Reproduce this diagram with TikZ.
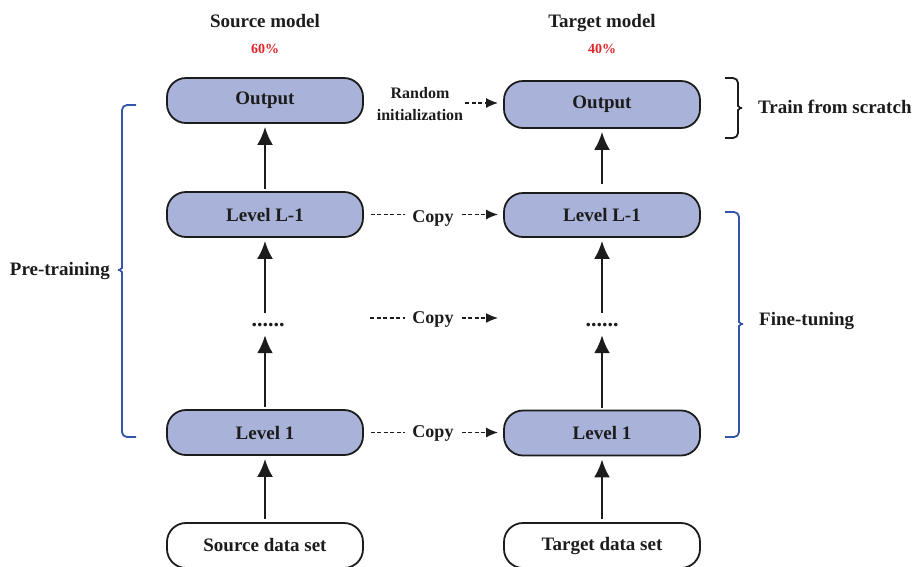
\documentclass[tikz,border=0pt]{standalone}
\usepackage{fontspec}
\setmainfont{Liberation Serif}
\usetikzlibrary{arrows.meta}
\definecolor{boxfill}{HTML}{A9B3D9}
\definecolor{ink}{HTML}{1C1C1C}
\definecolor{pctc}{HTML}{E0262A}
\definecolor{bracec}{HTML}{3556A8}
\tikzset{
  layer/.style={draw=ink, line width=1.8pt, fill=boxfill, rounded corners=19pt,
    minimum width=196pt, minimum height=45pt, inner sep=0pt,
    font=\fontsize{19}{22}\selectfont\bfseries, text=ink},
  datab/.style={layer, fill=white},
  lbl/.style={font=\fontsize{19}{22}\selectfont\bfseries, text=ink, inner sep=0pt},
  pct/.style={font=\fontsize{14}{16}\selectfont\bfseries, text=pctc, inner sep=0pt},
  copyt/.style={font=\fontsize{18}{20}\selectfont\bfseries, text=ink, inner sep=0pt},
  dotst/.style={font=\fontsize{22}{22}\selectfont\bfseries, text=ink, inner sep=0pt,
    minimum width=40pt, minimum height=20pt},
  uparrow/.style={draw=ink, line width=2.5pt, -{Latex[length=18pt,width=16pt]}},
  copyl/.style={draw=ink, line width=1.5pt, dash pattern=on 4pt off 2.5pt},
  copya/.style={copyl, -{Latex[length=12pt,width=10pt]}},
  bracel/.style={line width=1.8pt, rounded corners=5pt}
}
\begin{document}
\begin{tikzpicture}[x=1pt,y=-1pt]
\useasboundingbox (0,0) rectangle (916,566);

% titles
\node[lbl, anchor=base] (stitle) at (265,27) {Source model};
\node[pct, anchor=base] (spct) at (265,53) {60\%};
\node[lbl, anchor=base] (ttitle) at (602,27) {Target model};
\node[pct, anchor=base] (tpct) at (602,53) {40\%};

% source column
\node[layer] (sOut) at (265,100.5) {Output};
\node[layer] (sLm1) at (265,214.5) {Level L-1};
\node[dotst] (sdots) at (268,325) {......};
\node[layer] (sL1) at (265,432.5) {Level 1};
\node[datab] (sData) at (265,545.5) {Source data set};

% target column
\node[layer, minimum height=47pt] (tOut) at (602,104.5) {Output};
\node[layer, minimum height=44pt] (tLm1) at (602,215) {Level L-1};
\node[dotst] (tdots) at (602,325) {......};
\node[layer] (tL1) at (602,433) {Level 1};
\node[datab] (tData) at (602,545.5) {Target data set};

% vertical arrows
\draw[uparrow, shorten >=3pt, shorten <=2pt] (sLm1.north) -- (sOut.south);
\draw[uparrow, shorten >=3pt, shorten <=2pt] (sdots.north -| sLm1.south) -- (sLm1.south);
\draw[uparrow, shorten <=2pt] (sL1.north) -- (sdots.south -| sL1.north);
\draw[uparrow, shorten >=3pt, shorten <=3pt] (sData.north) -- (sL1.south);

\draw[uparrow, shorten >=3pt, shorten <=8pt] (tLm1.north) -- (tOut.south);
\draw[uparrow, shorten >=3pt, shorten <=2pt] (tdots.north) -- (tLm1.south);
\draw[uparrow, shorten <=2pt] (tL1.north) -- (tdots.south);
\draw[uparrow, shorten >=3pt, shorten <=3pt] (tData.north) -- (tL1.south);

% random initialization
\node[font=\fontsize{16}{22}\selectfont\bfseries, text=ink, inner sep=0pt, align=center]
  (rinit) at (420,104) {Random\\initialization};
\draw[copya, shorten <=2pt, shorten >=5pt] (rinit.east |- 0,103) -- (tOut.west |- 0,103);

% copy rows
\node[copyt, anchor=base] (c1) at (433,222) {Copy};
\draw[copyl, shorten <=7pt, shorten >=7pt] (sLm1.east) -- (sLm1.east -| c1.west);
\draw[copya, shorten <=8pt, shorten >=5pt] (c1.east |- sLm1.east) -- (tLm1.west |- sLm1.east);

\node[copyt, anchor=base] (c2) at (433,323) {Copy};
\coordinate (dl) at (370,318);
\coordinate (dr) at (498,318);
\draw[copyl, shorten >=7pt] (dl) -- (dl -| c2.west);
\draw[copya, shorten <=8pt] (c2.east |- dl) -- (dr);

\node[copyt, anchor=base] (c3) at (433,437) {Copy};
\draw[copyl, shorten <=7pt, shorten >=7pt] (sL1.east) -- (sL1.east -| c3.west);
\draw[copya, shorten <=8pt, shorten >=5pt] (c3.east |- sL1.east) -- (tL1.west |- sL1.east);

% braces
\draw[bracel, draw=bracec] (136,105) -- (122,105) -- (122,263)
  .. controls (122,268) and (119,270) .. (115,270)
  .. controls (119,270) and (122,272) .. (122,277) -- (122,437) -- (136,437);
\node[lbl, anchor=base east] (pre) at (110,275) {Pre-training};

\draw[bracel, draw=ink] (725,78) -- (738,78) -- (738,101)
  .. controls (738,106) and (741,108) .. (745,108)
  .. controls (741,108) and (738,110) .. (738,115) -- (738,138) -- (725,138);
\node[lbl, anchor=base west] (scratch) at (758,113) {Train from scratch};

\draw[bracel, draw=bracec] (725,212) -- (739,212) -- (739,317)
  .. controls (739,322) and (742,324) .. (746,324)
  .. controls (742,324) and (739,326) .. (739,331) -- (739,437) -- (725,437);
\node[lbl, anchor=base west] (fine) at (759,325) {Fine-tuning};
\end{tikzpicture}
\end{document}
